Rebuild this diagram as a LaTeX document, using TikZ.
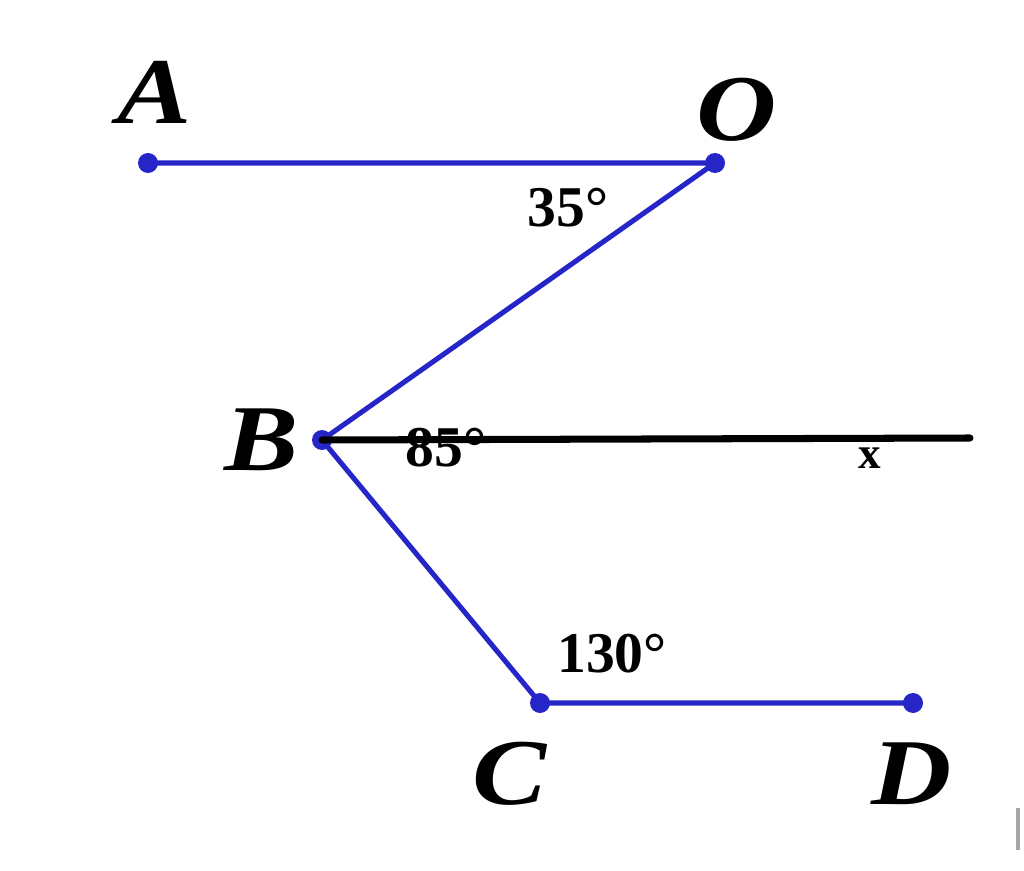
\documentclass[tikz,border=0pt]{standalone}
\usepackage{fontspec}
\setmainfont{Liberation Serif}
\usepackage{tikz}
\usetikzlibrary{positioning}
\definecolor{segblue}{RGB}{38,38,200}

\begin{document}
\begin{tikzpicture}[
  pt/.style={circle, fill=segblue, inner sep=0pt, minimum size=0.5cm},
  seg/.style={draw=segblue, line width=3.6pt},
  letter/.style={font=\fontsize{67}{72}\selectfont\bfseries\itshape, xscale=1.18},
  angle/.style={font=\fontsize{41}{44}\selectfont\bfseries}
]
\useasboundingbox (0,0) rectangle (25.6,21.75);

% Nodes
\node[pt] (A) at (3.7,17.675) {};
\node[pt] (O) at (17.875,17.675) {};
\node[pt] (B) at (8.05,10.75) {};
\node[pt] (C) at (13.5,4.175) {};
\node[pt] (D) at (22.825,4.175) {};
\coordinate (Xend) at (24.25,10.8);

\node[letter] (lA) at (3.875,19.45) {A};
\node[letter] (lO) at (18.425,19.0) {O};
\node[letter] (lB) at (6.55,10.75) {B};
\node[letter] (lC) at (12.75,2.4) {C};
\node[letter] (lD) at (22.8,2.4) {D};

\node[angle] (a35) at (14.2,16.55) {35°};
\node[angle] (a85) at (11.15,10.55) {85°};
\node[angle] (a130) at (15.3,5.4) {130°};
\node[font=\fontsize{32}{36}\selectfont\bfseries] (lx) at (21.75,10.3) {x};

% Edges
\draw[seg] (A.center) -- (O.center) -- (B.center) -- (C.center) -- (D.center);
\draw[line width=5pt, line cap=round] (B.center) -- (Xend);

% stray mark
\draw[gray!70, line width=2.5pt] (25.45,1.55) -- (25.45,0.5);

\end{tikzpicture}
\end{document}
